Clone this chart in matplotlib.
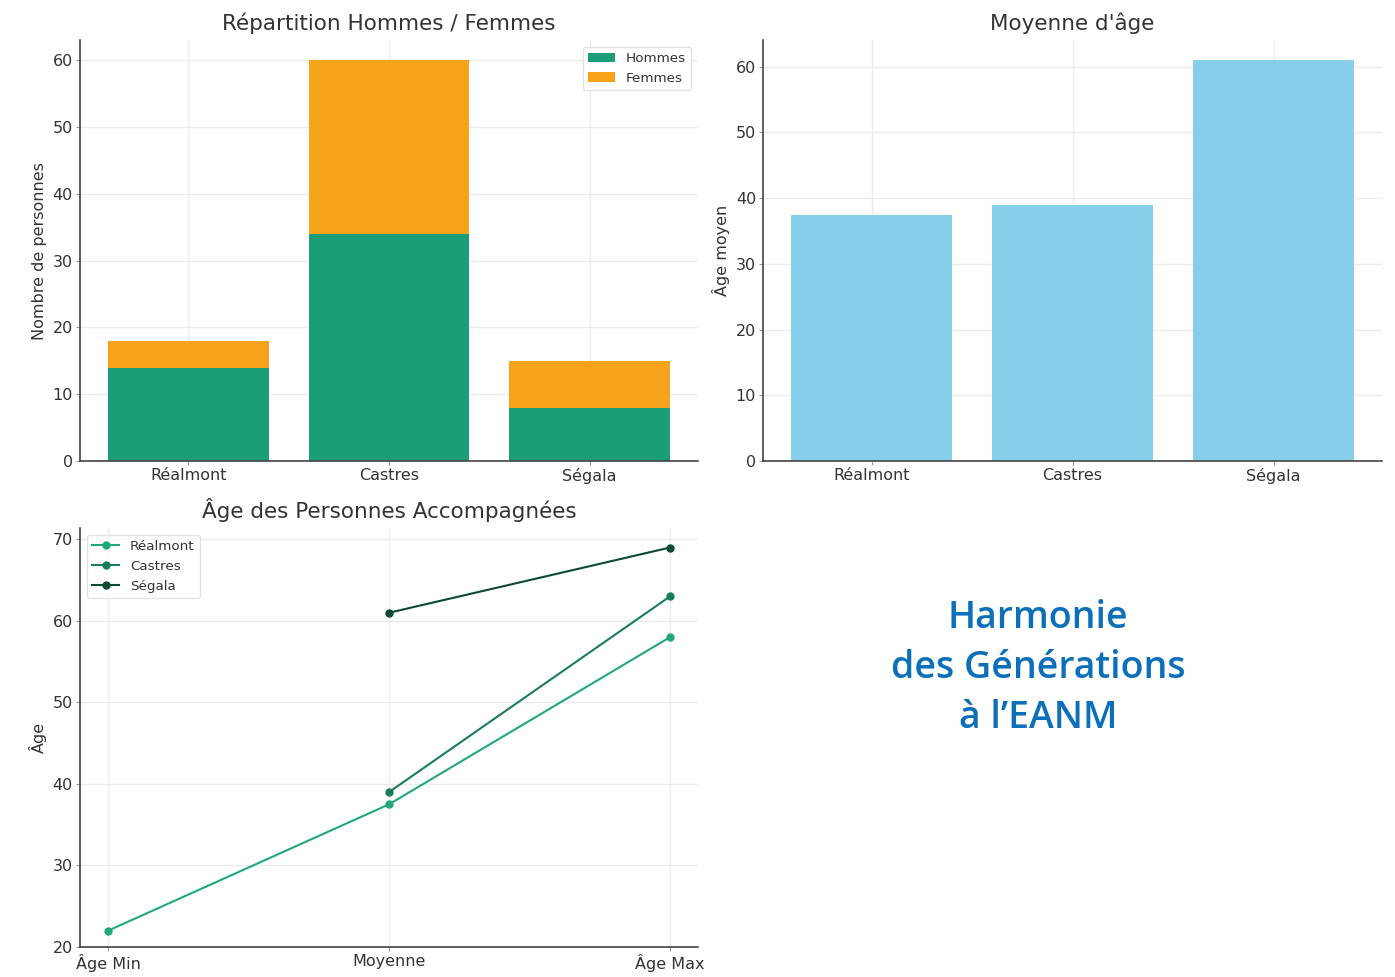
import matplotlib
matplotlib.use("Agg")
import matplotlib.pyplot as plt
import numpy as np

# --- data ---
sites = ["Réalmont", "Castres", "Ségala"]
hommes = [14, 34, 8]
femmes = [4, 26, 7]
age_moyen = [37.5, 39, 61]

stat_labels = ["Âge Min", "Moyenne", "Âge Max"]
age_realmont = [22, 37.5, 58]
age_castres = [np.nan, 39, 63]
age_segala = [np.nan, 61, 69]

# --- style ---
plt.rcParams["font.family"] = ["DejaVu Sans"]
text_col = "#333333"
grid_col = "#ebebeb"
spine_col = "#444444"
c_hommes = "#1b9e77"
c_femmes = "#f7a21b"
c_age = "#87ceeb"
line_cols = ["#21a87a", "#1a7d5a", "#0d4a32"]

fig = plt.figure(figsize=(13.95, 9.77), dpi=100)
fig.patch.set_facecolor("white")

def style_axes(ax):
    ax.set_axisbelow(True)
    ax.grid(True, color=grid_col, linewidth=1.0)
    for s in ("top", "right"):
        ax.spines[s].set_visible(False)
    for s in ("left", "bottom"):
        ax.spines[s].set_color(spine_col)
        ax.spines[s].set_linewidth(1.2)
    ax.tick_params(colors=text_col, labelsize=11.5, length=3, pad=2, color="#999999")

# Répartition Hommes / Femmes
ax1 = fig.add_axes([0.0573, 0.528, 0.4431, 0.431])
x = np.arange(len(sites))
ax1.bar(x, hommes, width=0.8, color=c_hommes, label="Hommes")
ax1.bar(x, femmes, width=0.8, bottom=hommes, color=c_femmes, label="Femmes")
ax1.set_xticks(x)
ax1.set_xticklabels(sites)
ax1.set_yticks(range(0, 61, 10))
ax1.set_ylabel("Nombre de personnes", fontsize=11.5, color=text_col)
ax1.set_title("Répartition Hommes / Femmes", fontsize=15.5, color=text_col, pad=7)
style_axes(ax1)
ax1.legend(loc="upper right", fontsize=9.7, frameon=True, edgecolor="#dddddd",
           labelcolor=text_col, handlelength=2.0)

# Moyenne d'âge
ax2 = fig.add_axes([0.547, 0.528, 0.4437, 0.431])
ax2.bar(x, age_moyen, width=0.8, color=c_age)
ax2.set_xticks(x)
ax2.set_xticklabels(sites)
ax2.set_yticks(range(0, 61, 10))
ax2.set_ylabel("Âge moyen", fontsize=11.5, color=text_col)
ax2.set_title("Moyenne d'âge", fontsize=15.5, color=text_col, pad=7)
style_axes(ax2)

# Âge des Personnes Accompagnées
ax3 = fig.add_axes([0.0573, 0.0307, 0.4431, 0.4289])
xs = np.arange(len(stat_labels))
for name, vals, col in zip(sites, [age_realmont, age_castres, age_segala], line_cols):
    ax3.plot(xs, vals, marker="o", markersize=5, linewidth=1.5, color=col, label=name)
ax3.set_xticks(xs)
ax3.set_xticklabels(stat_labels)
ax3.set_ylim(20, 71.4)
ax3.set_yticks(range(20, 71, 10))
ax3.set_ylabel("Âge", fontsize=11.5, color=text_col)
ax3.set_title("Âge des Personnes Accompagnées", fontsize=15.5, color=text_col, pad=7)
style_axes(ax3)
ax3.legend(loc="upper left", fontsize=9.7, frameon=True, edgecolor="#dddddd",
           labelcolor=text_col, handlelength=2.0)

# Slogan
fig.text(0.744, 0.316, "Harmonie\ndes Générations\nà l\u2019EANM", ha="center", va="center",
         fontsize=27, fontweight="semibold", color="#0b6fba", family=["Open Sans", "DejaVu Sans"],
         linespacing=1.41)

fig.savefig("out.png", dpi=100, facecolor="white")
